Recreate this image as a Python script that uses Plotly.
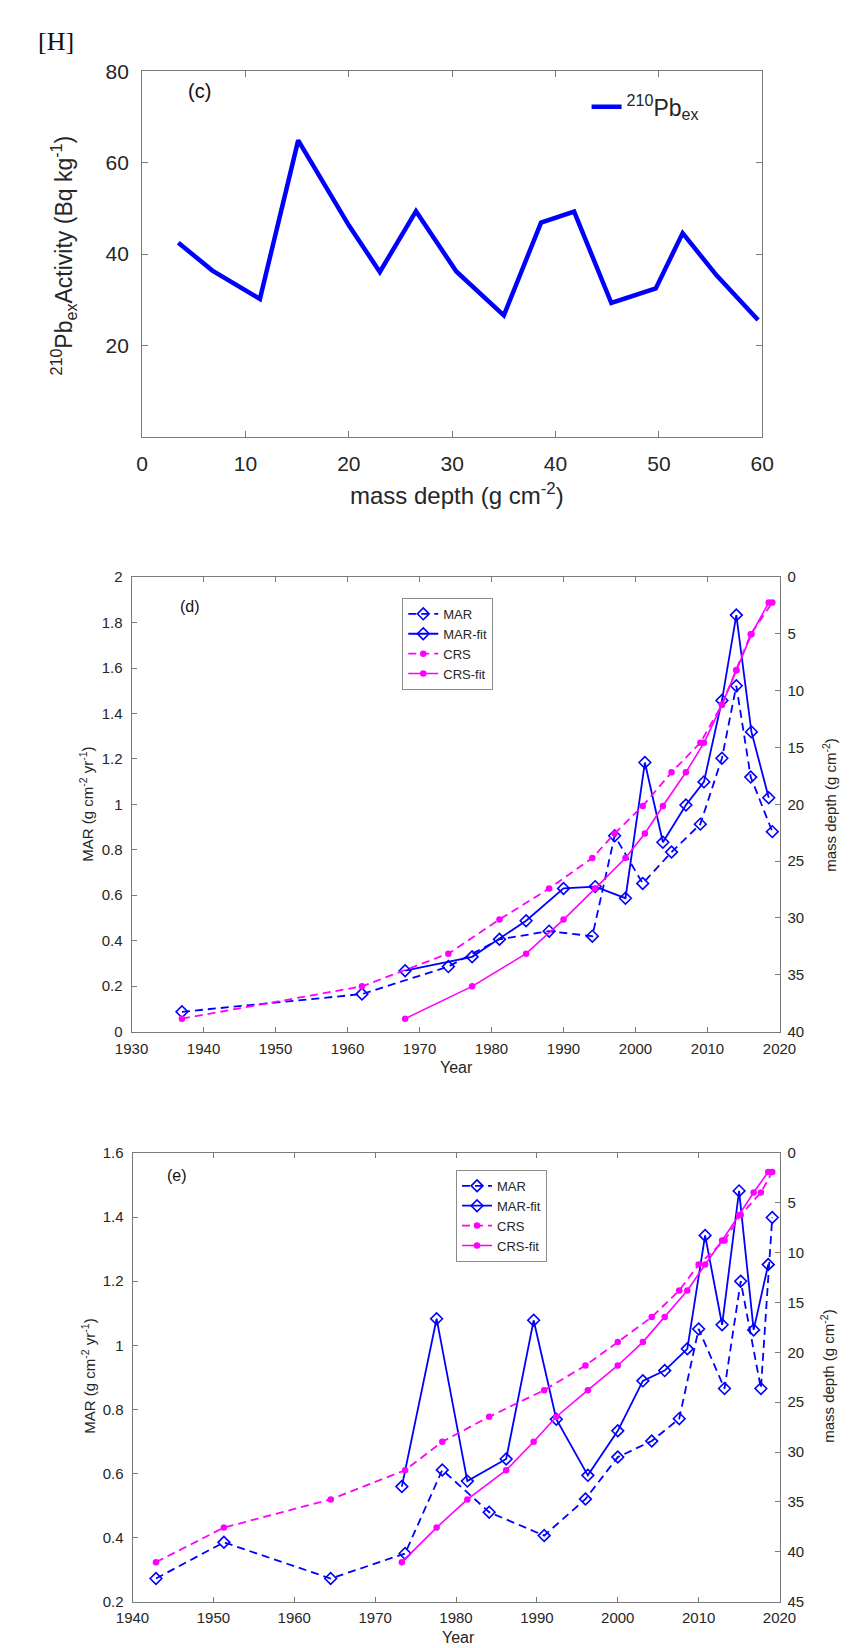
import plotly.graph_objects as go

# ---------------- Panel (c) ----------------
c_depth = [3.5, 6.8, 11.4, 15.1, 20.0, 23.0, 26.5, 30.4, 35.0, 38.6, 41.8, 45.4, 49.7, 52.3, 55.6, 59.6]
c_activity = [42.5, 36.4, 30.2, 64.9, 46.3, 36.1, 49.4, 36.2, 26.6, 46.9, 49.3, 29.3, 32.5, 44.6, 35.3, 25.6]
c_xticks = [0, 10, 20, 30, 40, 50, 60]
c_yticks = [20, 40, 60, 80]

# ---------------- Panel (d) ----------------
d_mar_year = [1937.0, 1962.0, 1974.0, 1981.1, 1988.0, 1994.0, 1997.1, 2001.0, 2005.0, 2009.0, 2012.0, 2014.0, 2016.0, 2019.0]
d_mar = [0.087, 0.165, 0.286, 0.406, 0.442, 0.420, 0.862, 0.652, 0.790, 0.913, 1.203, 1.522, 1.120, 0.880]
d_fit_year = [1968.0, 1977.3, 1984.8, 1990.0, 1994.4, 1998.6, 2001.3, 2003.8, 2007.0, 2009.5, 2012.0, 2014.0, 2016.1, 2018.5]
d_mar_fit = [0.268, 0.329, 0.488, 0.630, 0.638, 0.587, 1.184, 0.833, 0.997, 1.099, 1.457, 1.833, 1.319, 1.029]
d_crs = [0.057, 0.199, 0.343, 0.493, 0.630, 0.764, 0.872, 0.993, 1.141, 1.271, 1.438, 1.590, 1.749, 1.888]
d_crs_fit = [0.057, 0.199, 0.343, 0.493, 0.630, 0.764, 0.872, 0.993, 1.141, 1.271, 1.438, 1.590, 1.749, 1.888]
d_xticks = [1930, 1940, 1950, 1960, 1970, 1980, 1990, 2000, 2010, 2020]
d_left_ticks = [0, 0.2, 0.4, 0.6, 0.8, 1, 1.2, 1.4, 1.6, 1.8, 2]
d_left_text = ["0", "0.2", "0.4", "0.6", "0.8", "1", "1.2", "1.4", "1.6", "1.8", "2"]
d_right_ticks = [0, 5, 10, 15, 20, 25, 30, 35, 40]

# ---------------- Panel (e) ----------------
e_mar_year = [1942.9, 1951.3, 1964.5, 1973.7, 1978.3, 1984.1, 1990.9, 1996.0, 2000.0, 2004.2, 2007.6, 2010.0, 2013.2, 2015.2, 2017.7, 2019.1]
e_mar = [0.272, 0.385, 0.272, 0.350, 0.611, 0.479, 0.406, 0.520, 0.651, 0.701, 0.771, 1.051, 0.865, 1.200, 0.865, 1.399]
e_fit_year = [1973.3, 1977.6, 1981.4, 1986.2, 1989.6, 1992.4, 1996.3, 2000.0, 2003.1, 2005.8, 2008.6, 2010.8, 2012.9, 2015.0, 2016.8, 2018.6]
e_mar_fit = [0.559, 1.083, 0.576, 0.645, 1.078, 0.769, 0.594, 0.733, 0.889, 0.921, 0.989, 1.343, 1.064, 1.482, 1.048, 1.252]
e_crs = [0.323, 0.431, 0.519, 0.610, 0.699, 0.777, 0.860, 0.937, 1.010, 1.088, 1.171, 1.252, 1.327, 1.407, 1.477, 1.541]
e_crs_fit = [0.323, 0.431, 0.519, 0.610, 0.699, 0.777, 0.860, 0.937, 1.010, 1.088, 1.171, 1.252, 1.327, 1.407, 1.477, 1.541]
e_xticks = [1940, 1950, 1960, 1970, 1980, 1990, 2000, 2010, 2020]
e_left_ticks = [0.2, 0.4, 0.6, 0.8, 1, 1.2, 1.4, 1.6]
e_left_text = ["0.2", "0.4", "0.6", "0.8", "1", "1.2", "1.4", "1.6"]
e_right_ticks = [0, 5, 10, 15, 20, 25, 30, 35, 40, 45]

BLUE = "#0000ff"
MAG = "#ff00ff"
AXC = "#7a7a7a"
TXT = "#262626"
FONT = "Liberation Sans, Arial, sans-serif"
W, H = 849, 1648

fig = go.Figure()

# panel c
fig.add_trace(go.Scatter(x=c_depth, y=c_activity, mode="lines",
                         line=dict(color=BLUE, width=4.5),
                         name="<sup>210</sup>Pb<sub>ex</sub>",
                         xaxis="x", yaxis="y", legend="legend3"))


def mar_traces(mx, my, fx, fy, cy, cfy, xa, ya, leg):
    dash = "8px,5px"
    return [
        go.Scatter(x=mx, y=my, mode="lines+markers", name="MAR",
                   line=dict(color=BLUE, width=1.8, dash=dash),
                   marker=dict(symbol="diamond-open", size=9, color=BLUE, line=dict(width=1.6)),
                   xaxis=xa, yaxis=ya, legend=leg),
        go.Scatter(x=fx, y=fy, mode="lines+markers", name="MAR-fit",
                   line=dict(color=BLUE, width=1.8),
                   marker=dict(symbol="diamond-open", size=9, color=BLUE, line=dict(width=1.6)),
                   xaxis=xa, yaxis=ya, legend=leg),
        go.Scatter(x=mx, y=cy, mode="lines+markers", name="CRS",
                   line=dict(color=MAG, width=1.8, dash=dash),
                   marker=dict(symbol="circle", size=6.5, color=MAG),
                   xaxis=xa, yaxis=ya, legend=leg),
        go.Scatter(x=fx, y=cfy, mode="lines+markers", name="CRS-fit",
                   line=dict(color=MAG, width=1.6),
                   marker=dict(symbol="circle", size=6.5, color=MAG),
                   xaxis=xa, yaxis=ya, legend=leg),
    ]


for t in mar_traces(d_mar_year, d_mar, d_fit_year, d_mar_fit, d_crs, d_crs_fit, "x2", "y2", "legend"):
    fig.add_trace(t)
for t in mar_traces(e_mar_year, e_mar, e_fit_year, e_mar_fit, e_crs, e_crs_fit, "x3", "y4", "legend2"):
    fig.add_trace(t)

# empty traces so that the right-hand (mass depth) axes are drawn
fig.add_trace(go.Scatter(x=[None], y=[None], mode="lines", xaxis="x2", yaxis="y3",
                         showlegend=False, hoverinfo="skip"))
fig.add_trace(go.Scatter(x=[None], y=[None], mode="lines", xaxis="x3", yaxis="y5",
                         showlegend=False, hoverinfo="skip"))


def px_x(a, b):
    return [a / W, b / W]


def px_y(top, bottom):
    return [1 - bottom / H, 1 - top / H]


def ax(**kw):
    base = dict(showline=True, linecolor=AXC, linewidth=1, ticks="inside", ticklen=5,
                tickcolor=AXC, showgrid=False, zeroline=False,
                tickfont=dict(family=FONT, size=15, color=TXT))
    base.update(kw)
    return base


cfont = dict(family=FONT, size=21, color=TXT)

layout = dict(
    width=W, height=H,
    margin=dict(l=0, r=0, t=0, b=0),
    paper_bgcolor="white", plot_bgcolor="white",
    font=dict(family=FONT, color=TXT),
    # panel c
    xaxis=ax(domain=px_x(122, 768), range=[0, 60], tickvals=c_xticks, mirror="ticks",
             anchor="y", tickfont=cfont, ticklen=6, ticklabelstandoff=8),
    yaxis=ax(domain=px_y(52, 422), range=[0, 80], tickvals=c_yticks, mirror="ticks",
             anchor="x", tickfont=cfont, ticklen=6, ticklabelstandoff=8),
    # panel d
    xaxis2=ax(domain=px_x(111, 786), range=[1930, 2020], tickvals=d_xticks, mirror="ticks",
              anchor="y2", ticklabelstandoff=3),
    yaxis2=ax(domain=px_y(564, 1024), range=[0, 2], tickvals=d_left_ticks, ticktext=d_left_text,
              anchor="x2", mirror=False, ticklabelstandoff=5),
    yaxis3=ax(overlaying="y2", side="right", anchor="x2", range=[40, 0], tickvals=d_right_ticks,
              ticklabelstandoff=4),
    # panel e
    xaxis3=ax(domain=px_x(112, 786), range=[1940, 2020], tickvals=e_xticks, mirror="ticks",
              anchor="y4", ticklabelstandoff=2),
    yaxis4=ax(domain=px_y(1147, 1601), range=[0.2, 1.6], tickvals=e_left_ticks, ticktext=e_left_text,
              anchor="x3", mirror=False, ticklabelstandoff=5),
    yaxis5=ax(overlaying="y4", side="right", anchor="x3", range=[45, 0], tickvals=e_right_ticks,
              ticklabelstandoff=4),
    legend=dict(x=393 / W, y=1 - 585 / H, xanchor="left", yanchor="top",
                bgcolor="white", bordercolor="#8c8c8c", borderwidth=1,
                font=dict(family=FONT, size=13, color=TXT), tracegroupgap=0,
                itemwidth=30),
    legend2=dict(x=449 / W, y=1 - 1164 / H, xanchor="left", yanchor="top",
                 bgcolor="white", bordercolor="#8c8c8c", borderwidth=1,
                 font=dict(family=FONT, size=13, color=TXT), tracegroupgap=0,
                 itemwidth=30),
    legend3=dict(x=585 / W, y=1 - 66 / H, xanchor="left", yanchor="top",
                 bgcolor="rgba(0,0,0,0)", borderwidth=0,
                 font=dict(family=FONT, size=23, color=TXT)),
    showlegend=True,
)
fig.update_layout(**layout)


def label(text, x, y, size, xref="paper", yref="paper", angle=0, family=FONT, color=TXT):
    return dict(text=text, x=x, y=y, xref=xref, yref=yref, textangle=angle, showarrow=False,
                xanchor="center", yanchor="middle", font=dict(family=family, size=size, color=color))


ann = [
    label("[H]", 32 / W, 1 - 22 / H, 26, family="Liberation Serif, serif", color="#111111"),
    # panel c
    label("(c)", (182 - 122) / 646, 1 - (72 - 52) / 370, 20, "x domain", "y domain", color="#111111"),
    label("mass depth (g cm<sup>-2</sup>)", 450 / W, 1 - 480 / H, 24),
    label("<sup>210</sup>Pb<sub>ex</sub>Activity (Bq kg<sup>-1</sup>)", 40 / W, 1 - 238 / H, 23, angle=-90),
    # panel d
    label("(d)", (172 - 111) / 675, 1 - (594 - 564) / 460, 16, "x2 domain", "y2 domain", color="#111111"),
    label("Year", 450 / W, 1 - 1060 / H, 16),
    label("MAR (g cm<sup>-2</sup> yr<sup>-1</sup>)", 64 / W, 1 - 794 / H, 15, angle=-90),
    label("mass depth (g cm<sup>-2</sup>)", 838 / W, 1 - 794 / H, 15, angle=-90),
    # panel e
    label("(e)", (158 - 112) / 674, 1 - (1170 - 1147) / 454, 16, "x3 domain", "y4 domain", color="#111111"),
    label("Year", 452 / W, 1 - 1637 / H, 16),
    label("MAR (g cm<sup>-2</sup> yr<sup>-1</sup>)", 66 / W, 1 - 1373 / H, 15, angle=-90),
    label("mass depth (g cm<sup>-2</sup>)", 836 / W, 1 - 1373 / H, 15, angle=-90),
]
fig.update_layout(annotations=ann)

fig.write_html("out.html")
